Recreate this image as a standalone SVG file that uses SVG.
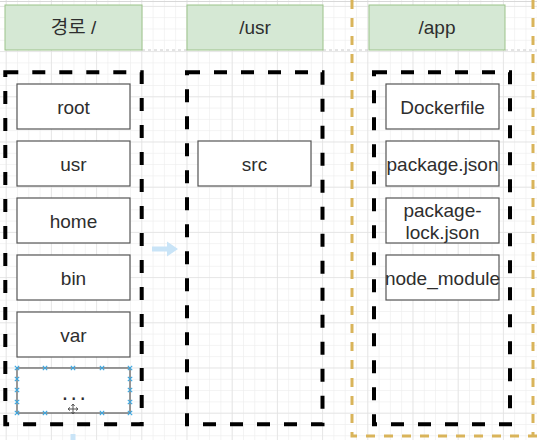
<svg xmlns="http://www.w3.org/2000/svg" width="537" height="440" viewBox="0 0 537 440">
<defs>
<pattern id="gmin" x="5.7" y="5.9" width="11.3" height="11.3" patternUnits="userSpaceOnUse">
<path d="M0 0.25H11.3M0.25 0V11.3" fill="none" stroke="#ececec" stroke-width="0.8"/>
</pattern>
<pattern id="gmaj" x="5.7" y="5.9" width="45.2" height="45.2" patternUnits="userSpaceOnUse">
<path d="M0 0.25H45.2M0.25 0V45.2" fill="none" stroke="#e0e0e0" stroke-width="0.9"/>
</pattern>
<g id="xh"><path d="M-2.2 -2.2L2.2 2.2M-2.2 2.2L2.2 -2.2" stroke="#3aa6e0" stroke-width="1.1"/></g>
</defs>
<style>
.hdr{fill:#d5e8d4;stroke:#9cc38a;stroke-width:1}
.cont{fill:none;stroke:#000;stroke-width:4;stroke-dasharray:13 14}
.box{fill:#fff;stroke:#555;stroke-width:1.2}
.t{font-family:"Liberation Sans",Arial,sans-serif;font-size:19px;fill:#2e2e2e;text-anchor:middle}
.tk{font-family:"Liberation Sans","Noto Sans CJK KR",sans-serif;font-size:19px;fill:#2e2e2e;text-anchor:middle}
</style>
<rect width="537" height="440" fill="#fff"/>
<rect width="537" height="440" fill="url(#gmin)"/>
<rect width="537" height="440" fill="url(#gmaj)"/>
<line x1="0" y1="1.5" x2="537" y2="1.5" stroke="#d8d8d8" stroke-width="1"/>
<path d="M142 50H187M323 50H369M505 50H537" stroke="#c8c8c8" stroke-width="1" stroke-dasharray="3 3"/>
<g id="page-border">
<path d="M352 0V436H537" fill="none" stroke="#d9b45a" stroke-width="3" stroke-dasharray="9 9"/>
<path d="M533 0V436" fill="none" stroke="#d9b45a" stroke-width="3" stroke-dasharray="9 9"/>
</g>
<g id="hdr-root"><rect class="hdr" x="5" y="5" width="137" height="45"/><text class="tk" x="73.5" y="34">경로 /</text></g>
<g id="hdr-usr"><rect class="hdr" x="187" y="5" width="136" height="45"/><text class="t" x="255" y="34">/usr</text></g>
<g id="hdr-app"><rect class="hdr" x="369" y="5" width="136" height="45"/><text class="t" x="437" y="34">/app</text></g>
<g id="cont-root"><rect class="cont" x="5.3" y="72.3" width="136.4" height="352"/></g>
<g id="cont-usr"><rect class="cont" x="187" y="72.3" width="135.5" height="352"/></g>
<g id="cont-app"><rect class="cont" x="374" y="72.3" width="136" height="352"/></g>
<g id="n-root"><rect class="box" x="17" y="84" width="113" height="45"/><text class="t" x="73.5" y="113.5">root</text></g>
<g id="n-usr"><rect class="box" x="17" y="141" width="113" height="45"/><text class="t" x="73.5" y="170.5">usr</text></g>
<g id="n-home"><rect class="box" x="17" y="198" width="113" height="45"/><text class="t" x="73.5" y="227.5">home</text></g>
<g id="n-bin"><rect class="box" x="17" y="255" width="113" height="45"/><text class="t" x="73.5" y="284.5">bin</text></g>
<g id="n-var"><rect class="box" x="17" y="312" width="113" height="45"/><text class="t" x="73.5" y="341.5">var</text></g>
<g id="n-more"><rect class="box" x="17" y="368" width="113" height="45"/><text class="t" x="75" y="400" style="font-size:23px;letter-spacing:2.5px">...</text>
<use href="#xh" x="17" y="368"/><use href="#xh" x="45" y="368"/><use href="#xh" x="73" y="368"/><use href="#xh" x="102" y="368"/><use href="#xh" x="130" y="368"/>
<use href="#xh" x="17" y="413"/><use href="#xh" x="45" y="413"/><use href="#xh" x="102" y="413"/><use href="#xh" x="130" y="413"/>
<use href="#xh" x="17" y="379"/><use href="#xh" x="17" y="390"/><use href="#xh" x="17" y="402"/>
<use href="#xh" x="130" y="379"/><use href="#xh" x="130" y="390"/><use href="#xh" x="130" y="402"/>
<path d="M73 404V414M68 409H78M73 404l-1.6 2M73 404l1.6 2M73 414l-1.6-2M73 414l1.6-2M68 409l2-1.6M68 409l2 1.6M78 409l-2-1.6M78 409l-2 1.6" fill="none" stroke="#555" stroke-width="1"/>
</g>
<g id="n-src"><rect class="box" x="198" y="141" width="113" height="45"/><text class="t" x="254.5" y="170.5">src</text></g>
<g id="n-dockerfile"><rect class="box" x="386" y="84" width="113" height="45"/><text class="t" x="442.5" y="113.5">Dockerfile</text></g>
<g id="n-package"><rect class="box" x="386" y="141" width="113" height="45"/><text class="t" x="442.5" y="170.5">package.json</text></g>
<g id="n-lock"><rect class="box" x="386" y="198" width="113" height="45"/><text class="t" x="442.5" y="216.5">package-</text><text class="t" x="442.5" y="239">lock.json</text></g>
<g id="n-node"><rect class="box" x="386" y="255" width="113" height="45"/><text class="t" x="442.5" y="284.5">node_module</text></g>
<g id="connectors">
<path d="M152 246.5H167V241.5L178 249L167 256.5V251.5H152Z" fill="#c9e4f7"/>
<rect x="70.5" y="434" width="5" height="6" fill="#c9e4f7"/>
</g>
</svg>
